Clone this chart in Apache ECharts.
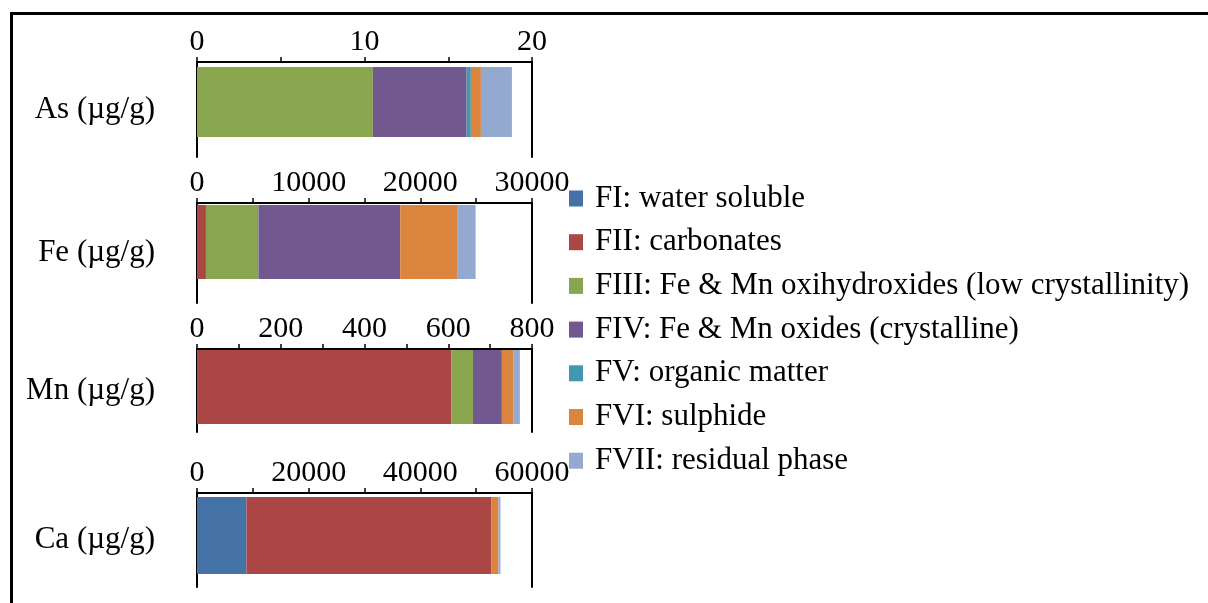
<!DOCTYPE html>
<html>
<head>
<meta charset="utf-8">
<script src="https://cdn.jsdelivr.net/npm/echarts@6/dist/echarts.min.js"></script>
<style>html,body{margin:0;padding:0;background:#fff;}#chart{width:1208px;height:603px;}</style>
</head>
<body>
<div id="chart"></div>
<script>
// ---- data ----
const elements = ['As (µg/g)', 'Fe (µg/g)', 'Mn (µg/g)', 'Ca (µg/g)'];
const fractions = [
  'FI: water soluble',
  'FII: carbonates',
  'FIII: Fe & Mn oxihydroxides (low crystallinity)',
  'FIV: Fe & Mn oxides (crystalline)',
  'FV: organic matter',
  'FVI: sulphide',
  'FVII: residual phase'
];
const asValues = [0, 0, 10.5, 5.6, 0.25, 0.6, 1.85];
const feValues = [0, 800, 4700, 12700, 0, 5150, 1600];
const mnValues = [0, 607, 52, 69, 0, 28, 15];
const caValues = [8860, 43830, 0, 0, 0, 1300, 360];
const axisMax = [20, 30000, 800, 60000];
const labelStep = [10, 10000, 200, 20000];

// ---- styling / layout ----
const colors = ['#4572A7', '#AA4643', '#89A54E', '#71588F', '#4198AF', '#DB843D', '#93A9CF'];
const panelValues = [asValues, feValues, mnValues, caValues];
const panelLayout = [
  { top: 62, height: 95, bar: 70, spacer: 15 },
  { top: 203, height: 100, bar: 74, spacer: 22 },
  { top: 349, height: 83, bar: 74, spacer: 7 },
  { top: 493, height: 94, bar: 77, spacer: 9 }
];
const FONT = 'Liberation Serif';

const grid = [], xAxis = [], yAxis = [], series = [];
panelLayout.forEach((p, i) => {
  grid.push({ left: 197, width: 335, top: p.top, height: p.height, containLabel: false });
  xAxis.push({
    type: 'value', gridIndex: i, position: 'top', min: 0, max: axisMax[i], interval: labelStep[i],
    axisLine: { show: true, lineStyle: { color: '#000', width: 2 } },
    axisTick: { show: true, inside: false, length: 5, lineStyle: { color: '#000', width: 1.5 } },
    minorTick: { show: true, splitNumber: 2, length: 5, lineStyle: { color: '#000', width: 1.5 } },
    splitLine: { show: false },
    axisLabel: { color: '#000', fontFamily: FONT, fontSize: 30, margin: 5, formatter: v => String(v) }
  });
  yAxis.push({
    type: 'category', gridIndex: i, data: [elements[i]], position: 'left',
    axisLine: { show: true, lineStyle: { color: '#000', width: 2 } },
    axisTick: { show: false },
    axisLabel: { color: '#000', fontFamily: FONT, fontSize: 31, margin: 42 }
  });
  yAxis.push({
    type: 'category', gridIndex: i, data: [elements[i]], position: 'right',
    axisLine: { show: true, lineStyle: { color: '#000', width: 2 } },
    axisTick: { show: false }, axisLabel: { show: false }
  });
  fractions.forEach((name, k) => {
    series.push({
      type: 'bar', name: name, xAxisIndex: i, yAxisIndex: 2 * i, stack: 'p' + i,
      barWidth: p.bar, barGap: '0%', itemStyle: { color: colors[k] },
      emphasis: { disabled: true },
      data: [panelValues[i][k]]
    });
  });
  // empty spacer slot (keeps the bar in the upper part of the panel, as in the original)
  series.push({
    type: 'bar', name: 'spacer' + i, xAxisIndex: i, yAxisIndex: 2 * i, stack: 's' + i,
    barWidth: p.spacer, barGap: '0%', itemStyle: { opacity: 0 }, silent: true,
    data: [0]
  });
});

const chart = echarts.init(document.getElementById('chart'), null, { renderer: 'canvas' });
chart.setOption({
  animation: false,
  backgroundColor: '#fff',
  color: colors,
  grid, xAxis, yAxis, series,
  legend: {
    orient: 'vertical', left: 569, top: 183, padding: 0,
    itemWidth: 14, itemHeight: 16, itemGap: 12.7, icon: 'rect',
    data: fractions,
    textStyle: { color: '#000', fontFamily: FONT, fontSize: 31, lineHeight: 30, padding: [0, 0, 0, 7] }
  },
  graphic: [{
    type: 'rect', left: 9, top: 11, silent: true,
    shape: { x: 0, y: 0, width: 1210, height: 610 },
    style: { fill: 'none', stroke: '#000', lineWidth: 3 }
  }]
});
</script>
</body>
</html>
